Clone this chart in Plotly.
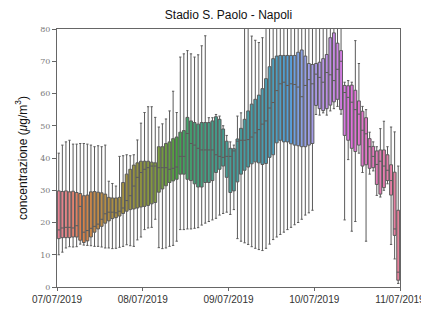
import math
import colorsys
import plotly.graph_objects as go

# ---------------- data (hourly boxes, 07/07/2019 -> 11/07/2019) ----------------
tick_labels = ["07/07/2019", "08/07/2019", "09/07/2019", "10/07/2019", "11/07/2019"]
tick_hours = [0, 24, 48, 72, 96]
y_ticks = [0, 10, 20, 30, 40, 50, 60, 70, 80]

upper_whisker = [
    41.5, 44, 45, 45.5, 44.3, 44.3, 44.5, 44.5, 44.3, 44, 43.5, 43.8, 43.5, 44, 32.8, 32.1,
    31.3, 40.5, 40.7, 41, 40.7, 41, 45.6, 50.8,
    54.1, 55.9, 55.9, 52.6, 49.6, 50.6, 52.1, 54.6, 60.7, 54.1, 71.3, 72.3, 73.3, 72.3, 71.3, 72,
    74.8, 77.9, 52.5, 52.5, 53.5, 53, 50, 47,
    45, 44, 53, 54, 88, 85, 77.8, 76.5, 75.8, 77.3, 88, 90, 90, 90, 90, 90, 90, 90,
    90, 90, 90, 90, 90, 90,
    90, 90, 90, 90, 90, 90, 90, 90, 63.5, 64, 63.5, 76.4, 69.3, 56, 55, 48,
    45, 43.5, 49.1, 51.4, 43.5, 49.6, 48.1, 37.5,
]
q3 = [
    29.8, 29.6, 29.8, 29.5, 29.7, 29.3, 29, 28.3, 28.5, 29.5, 29.6, 29.4, 29.2, 28.8, 27.8, 27.6,
    27.6, 27.8, 32.4, 35, 36.5, 37.8, 38.5, 39,
    39, 39, 38.7, 38.5, 43.5, 43.5, 44.5, 45, 46, 46.5, 48, 48.5, 52.6, 51.5, 51, 50.5,
    51, 51, 51, 51.5, 52.8, 52, 49, 45.2,
    43, 42.9, 45.9, 49.2, 52, 54.6, 56.7, 58.2, 59.5, 61.5, 64.6, 68.3, 70.8, 71.6, 71.8, 71.8,
    71.8, 71.8, 71.8, 72.8, 73.5, 71.6, 69.3, 69,
    69.3, 69.7, 70.8, 72.1, 77.3, 78.8, 75.6, 73.3, 62.5, 62.4, 62.6, 61, 57.7, 54.5, 52.5, 46,
    43.6, 42.2, 42.5, 42.5, 41, 37.9, 35.6, 23.8,
]
median = [
    17.7, 18.3, 18.5, 18.5, 18.3, 19, 25, 17, 17.5, 18.2, 18.8, 19.5, 21, 22.7, 23.2, 23.2,
    23, 23.5, 24.5, 26.8, 28.3, 31.3, 34, 35.5,
    36.5, 37, 37.5, 37.5, 37, 37, 37, 36.5, 36.8, 37.2, 40.5, 40.5, 47.6, 44.5, 44, 43,
    42.5, 42.5, 42.5, 42.5, 41, 40.5, 40.2, 40.5,
    40.5, 42.2, 45.2, 45.5, 45.5, 45.7, 46.5, 47.8, 48.8, 50.5, 51.5, 55.5, 57.2, 60.9, 63, 63.5,
    62.5, 63, 62.8, 62, 59, 62.5, 64.3, 63,
    66, 65, 63.5, 66.5, 65.8, 64, 67.5, 70, 60.3, 58.8, 57.3, 55, 53.6, 48.6, 47.5, 43.5,
    40.5, 38, 39, 37.5, 36.2, 33, 18, 4.6,
]
q1 = [
    15, 15.3, 15.3, 15.3, 15.5, 15.5, 14.5, 13.8, 14.3, 15.5, 17, 18, 18.8, 19.8, 20.5, 21.2,
    21.5, 22, 22.8, 23.5, 24, 24.2, 24.5, 24.8,
    25, 25.3, 25.8, 26.2, 29.4, 30.4, 31.4, 32.4, 32.9, 33.4, 35, 35, 33.4, 33, 32, 31,
    31, 32.4, 32.4, 33, 35.5, 36.5, 37.5, 34,
    29.3, 29.8, 32.6, 35, 36.2, 37.2, 38.2, 38.8, 38.5, 38, 38.3, 40.2, 41, 44.7, 45.5, 45,
    45, 44.4, 44, 43.8, 43.5, 43.5, 44, 44.5,
    56.3, 55.3, 54.7, 55.3, 56.4, 57.4, 58.2, 55, 47, 45.5, 43, 42, 44, 37.5, 37.9, 36.8,
    37, 31.8, 28.8, 30.8, 33, 28.5, 16, 2.1,
]
lower_whisker = [
    10, 10.8, 12.1, 12.5, 12.4, 12.5, 13.3, 13, 12.9, 12.8, 12.6, 12.6, 12.4, 12.1, 12.1, 11.9,
    12, 12.3, 12.6, 13.1, 12.8, 12.6, 14.6, 15.5,
    17.8, 18.3, 18.5, 21, 12.2, 11.9, 12.1, 12.6, 12.9, 14.2, 17.8, 17.8, 18, 18, 18.2, 18.4,
    19.2, 19.8, 20.3, 20.8, 21.3, 22.3, 22.8, 23.2,
    22.5, 24, 15, 14.2, 13.7, 13.2, 12.5, 12, 11.6, 11.3, 12, 13.3, 14.7, 15.5, 16.3, 17,
    17.8, 18.5, 19.3, 20, 21, 22.3, 23, 23.8,
    53.5, 53.3, 54, 53.3, 54.6, 55.3, 56, 53.6, 20.8, 39.5, 17.3, 20.3, 41.5, 35.5, 14.2, 35,
    36, 28.4, 27.9, 30, 32, 13.2, 8.7, 1.1,
]

# ---------------- husl palette (seaborn style) ----------------
_M = [[3.2406, -1.5372, -0.4986], [-0.9689, 1.8758, 0.0415], [0.0557, -0.2040, 1.0570]]
_refU, _refV = 0.19784, 0.46834
_lab_e, _lab_k = 0.008856, 903.3


def _max_chroma(L, H):
    hrad = math.radians(H)
    sinH, cosH = math.sin(hrad), math.cos(hrad)
    sub1 = (L + 16) ** 3 / 1560896.0
    sub2 = sub1 if sub1 > _lab_e else L / _lab_k
    result = float("inf")
    for m1, m2, m3 in _M:
        top = (0.99915 * m1 + 1.05122 * m2 + 1.14460 * m3) * sub2
        rbottom = 0.86330 * m3 - 0.17266 * m2
        lbottom = 0.12949 * m3 - 0.38848 * m1
        bottom = (rbottom * sinH + lbottom * cosH) * sub2
        for t in (0.0, 1.0):
            C = L * (top - 1.05122 * t) / (bottom + 0.17266 * sinH * t)
            if 0.0 < C < result:
                result = C
    return result


def _husl_to_rgb(H, S, L):
    C = _max_chroma(L, H) / 100.0 * S
    U = C * math.cos(math.radians(H))
    V = C * math.sin(math.radians(H))
    t = (L + 16) / 116.0
    varY = t ** 3 if t ** 3 > _lab_e else (116 * t - 16) / _lab_k
    varU = U / (13 * L) + _refU
    varV = V / (13 * L) + _refV
    Y = varY
    X = -(9 * Y * varU) / ((varU - 4) * varV - varU * varV)
    Z = (9 * Y - 15 * varV * Y - varV * X) / (3 * varV)
    out = []
    for row in _M:
        c = row[0] * X + row[1] * Y + row[2] * Z
        c = 12.92 * c if c <= 0.0031308 else 1.055 * c ** (1 / 2.4) - 0.055
        out.append(min(max(c, 0.0), 1.0))
    return out


def husl_palette(n, h=0.01, s=0.9, l=0.65, desat=0.75):
    cols = []
    for i in range(n):
        hue = ((i / n) + h) % 1 * 359
        r, g, b = _husl_to_rgb(hue, s * 99, l * 99)
        hh, ll, ss = colorsys.rgb_to_hls(r, g, b)
        r, g, b = colorsys.hls_to_rgb(hh, ll, ss * desat)
        cols.append("rgb(%d,%d,%d)" % (round(r * 255), round(g * 255), round(b * 255)))
    return cols


n = len(median)
colors = husl_palette(n)
line_gray = "#5a5a5a"

fig = go.Figure()
for i in range(n):
    fig.add_trace(go.Box(
        x=[i + 0.5],
        q1=[q1[i]], median=[median[i]], q3=[q3[i]],
        lowerfence=[lower_whisker[i]], upperfence=[upper_whisker[i]],
        width=0.8, whiskerwidth=0.8,
        fillcolor=colors[i],
        line=dict(color=line_gray, width=1),
        boxpoints=False, showlegend=False, hoverinfo="skip",
    ))

axis_col = "#666666"
fig.update_layout(
    width=429, height=309,
    margin=dict(l=49, r=28, t=21, b=24),
    paper_bgcolor="white", plot_bgcolor="white",
    boxmode="overlay",
    font=dict(family="Liberation Sans, Arial, sans-serif", size=10, color="#222222"),
    title=dict(text="Stadio S. Paolo - Napoli", x=0.5, xref="paper", xanchor="center",
               y=1, yref="container", yanchor="top", pad=dict(t=3),
               font=dict(size=12, color="#111111")),
    xaxis=dict(range=[0, n], tickmode="array", tickvals=tick_hours, ticktext=tick_labels,
               showgrid=False, zeroline=False, showline=True, mirror=True,
               linecolor=axis_col, linewidth=1, ticks="outside", ticklen=3,
               tickcolor=axis_col, tickfont=dict(size=10, color="#333333")),
    yaxis=dict(range=[0, 80], tickmode="array", tickvals=y_ticks,
               showgrid=False, zeroline=False, showline=True, mirror=True,
               linecolor=axis_col, linewidth=1, ticks="outside", ticklen=4,
               tickcolor=axis_col, tickfont=dict(size=8, color="#7a7a7a",
                                                 family="DejaVu Serif, serif"),
               title=dict(text="concentrazione (<i>μ</i>g/m<sup>3</sup>)",
                          font=dict(size=12, color="#111111"), standoff=10)),
)

fig.write_html("out.html")
